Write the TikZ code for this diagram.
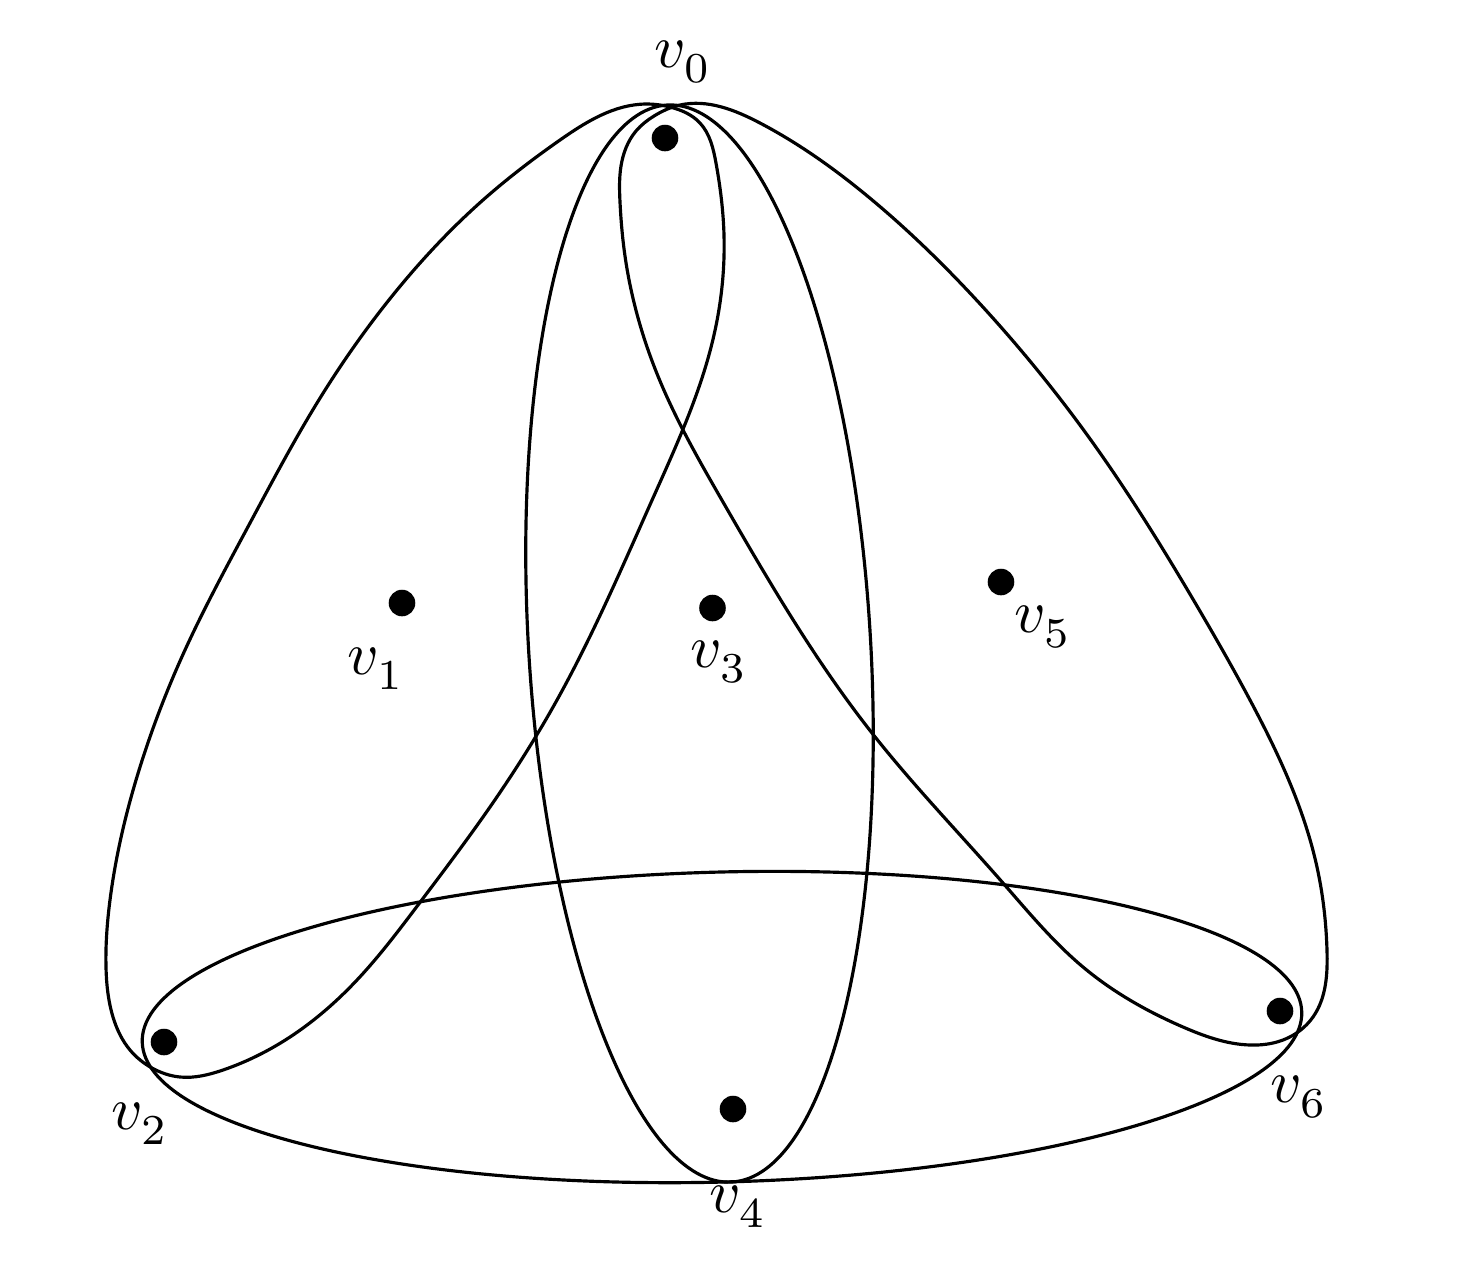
\documentclass[tikz,border=0pt]{standalone}
\usetikzlibrary{hobby}
\newcommand\vlab[1]{$v_{\lower1pt\hbox{$\scriptstyle #1$}}$}
\begin{document}
\begin{tikzpicture}[x=0.164pt,y=-0.164pt,
  dot/.style={circle,fill=black,inner sep=0pt,minimum size=4.36pt},
  lab/.style={inner sep=0pt},
  hedge/.style={line width=0.52pt,line join=round}]
\useasboundingbox (0,0) rectangle (1472,1274);
% vertices
\node[dot] (v0) at (665,138) {};
\node[dot] (v1) at (402,603) {};
\node[dot] (v2) at (164,1042) {};
\node[dot] (v3) at (712.5,608) {};
\node[dot] (v4) at (733,1109) {};
\node[dot] (v5) at (1001,582) {};
\node[dot] (v6) at (1280,1011) {};
% labels
\node[lab] (l0) at (683,62) {\vlab{0}};
\node[lab] (l1) at (376,669) {\vlab{1}};
\node[lab] (l2) at (140,1124) {\vlab{2}};
\node[lab] (l3) at (719,662) {\vlab{3}};
\node[lab] (l4) at (738,1207) {\vlab{4}};
\node[lab] (l5) at (1043,627) {\vlab{5}};
\node[lab] (l6) at (1299,1097) {\vlab{6}};
% hyperedge {v0,v3,v4}
\draw[hedge,rotate around={93.45:(699.5,643.5)}] (699.5,643.5) ellipse [x radius=88.48pt, y radius=28.04pt];
% hyperedge {v2,v4,v6}
\draw[hedge,rotate around={1.48:(722,1027)}] (722,1027) ellipse [x radius=95.12pt, y radius=25.42pt];
% hyperedge {v0,v1,v2}
\draw[hedge,use Hobby shortcut,closed=true]
 (646,104) .. (560,140) .. (483,200) .. (397,290) .. (317,403)
 .. (250,523) .. (185,650) .. (140,767) .. (110,900) .. (106,967)
 .. (113,1017) .. (130,1050) .. (152,1068) .. (180,1077) .. (223,1070)
 .. (290,1037) .. (357,980) .. (418,905) .. (490,807) .. (557,700)
 .. (653,498) .. (714,335) .. (724,235) .. (716,163) .. (700,123) .. (670,107);
% hyperedge {v0,v5,v6}
\draw[hedge,use Hobby shortcut,closed=true]
 (680,105) .. (760,123) .. (871,199) .. (982,306) .. (1093,443)
 .. (1197,606) .. (1250,700) .. (1317,867) .. (1327,950) .. (1313,1017)
 .. (1283,1040) .. (1250,1045) .. (1183,1027) .. (1083,967) .. (1003,883)
 .. (872,733) .. (723,502) .. (660,381) .. (625,256) .. (620,202)
 .. (621,166) .. (636,131) .. (654,116);
\end{tikzpicture}
\end{document}
